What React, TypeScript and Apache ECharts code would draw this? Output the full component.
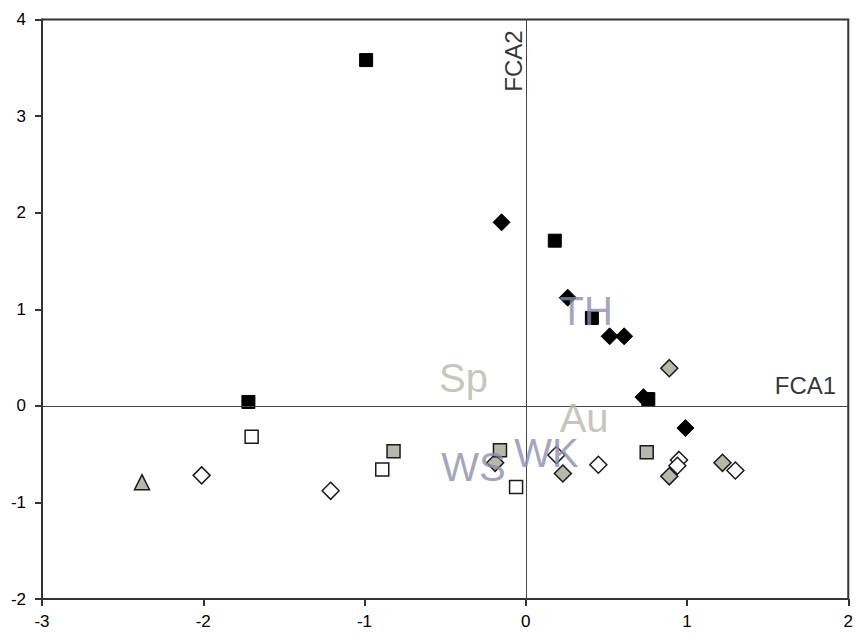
import React, { useEffect, useRef } from "react";
import * as echarts from "echarts";

const blackSquares: number[][] = [[-0.99, 3.58], [-1.72, 0.04], [0.18, 1.71], [0.41, 0.91], [0.76, 0.07]];
const blackDiamonds: number[][] = [[-0.15, 1.9], [0.26, 1.12], [0.52, 0.72], [0.61, 0.72], [0.73, 0.09], [0.99, -0.23]];
const grayDiamonds: number[][] = [[0.89, 0.39], [-0.19, -0.59], [0.23, -0.7], [0.89, -0.73], [1.22, -0.59]];
const whiteDiamonds: number[][] = [[-2.01, -0.72], [-1.21, -0.88], [0.19, -0.51], [0.45, -0.61], [0.95, -0.56], [0.94, -0.62], [1.3, -0.67]];
const graySquares: number[][] = [[-0.82, -0.47], [-0.16, -0.46], [0.75, -0.48]];
const whiteSquares: number[][] = [[-1.7, -0.32], [-0.89, -0.66], [-0.06, -0.84]];
const grayTriangles: number[][] = [[-2.38, -0.79]];

const groupNames = ["TH", "Sp", "Au", "WK", "WS"];
const groupPos: number[][] = [[0.375, 0.98], [-0.386, 0.29], [0.362, -0.13], [0.128, -0.485], [-0.324, -0.63]];
const groupTone = ["purple", "gray", "gray", "purple", "purple"];

const axisNames = ["FCA1", "FCA2"];
const axisNamePos: number[][] = [[1.735, 0.207], [-0.078, 3.57]];

const xTicks = [-3, -2, -1, 0, 1, 2];
const yTicks = [-2, -1, 0, 1, 2, 3, 4];

const GRAY = "#b7b7ab";
const PURPLE = "#8c8cad";
const FONT = "Liberation Sans, Arial, sans-serif";

export default function App() {
  const ref = useRef<HTMLDivElement>(null);
  useEffect(() => {
    document.body.style.margin = "0";
    const chart = echarts.init(ref.current!, null, { renderer: "svg" });
    const markerBorder = { borderColor: "#1a1a1a", borderWidth: 1.5, opacity: 1 };
    const option: any = {
      animation: false,
      backgroundColor: "#ffffff",
      grid: { left: 42, right: 5, top: 19.5, bottom: 35, show: true, borderColor: "#333", borderWidth: 2, backgroundColor: "transparent" },
      xAxis: {
        type: "value", min: xTicks[0], max: xTicks[xTicks.length - 1], interval: 1,
        axisLine: { show: true, onZero: false, lineStyle: { color: "#333", width: 2 } },
        axisTick: { show: true, inside: false, length: 7, lineStyle: { color: "#333", width: 2 } },
        axisLabel: { color: "#000", fontSize: 17, fontFamily: FONT, margin: 14 },
        splitLine: { show: false },
      },
      yAxis: {
        type: "value", min: yTicks[0], max: yTicks[yTicks.length - 1], interval: 1,
        axisLine: { show: true, onZero: false, lineStyle: { color: "#333", width: 2 } },
        axisTick: { show: true, inside: false, length: 7, lineStyle: { color: "#333", width: 2 } },
        axisLabel: { color: "#000", fontSize: 17, fontFamily: FONT, margin: 16 },
        splitLine: { show: false },
      },
      series: [
        {
          type: "scatter", data: [], z: 1,
          markLine: {
            silent: true, symbol: ["none", "none"], animation: false,
            label: { show: false },
            lineStyle: { color: "#444", width: 1, type: "solid" },
            data: [{ xAxis: 0 }, { yAxis: 0 }],
          },
        },
        { type: "scatter", data: whiteDiamonds, symbol: "diamond", symbolSize: 17, itemStyle: { color: "#fff", ...markerBorder }, z: 2 },
        { type: "scatter", data: grayDiamonds, symbol: "diamond", symbolSize: 17, itemStyle: { color: GRAY, ...markerBorder }, z: 2 },
        { type: "scatter", data: whiteSquares, symbol: "rect", symbolSize: 13, itemStyle: { color: "#fff", ...markerBorder }, z: 2 },
        { type: "scatter", data: graySquares, symbol: "rect", symbolSize: 13, itemStyle: { color: GRAY, ...markerBorder }, z: 2 },
        { type: "scatter", data: grayTriangles, symbol: "triangle", symbolSize: 15, itemStyle: { color: GRAY, ...markerBorder }, z: 2 },
        { type: "scatter", data: blackDiamonds, symbol: "diamond", symbolSize: 17, itemStyle: { color: "#000", borderColor: "#000", borderWidth: 1, opacity: 1 }, z: 3 },
        { type: "scatter", data: blackSquares, symbol: "rect", symbolSize: 13, itemStyle: { color: "#000", borderColor: "#000", borderWidth: 1, opacity: 1 }, z: 3 },
        {
          type: "scatter", z: 5, symbolSize: 1, silent: true,
          itemStyle: { color: "rgba(0,0,0,0)" },
          data: groupNames.map((n, i) => ({
            name: n, value: groupPos[i],
            label: { color: groupTone[i] === "purple" ? PURPLE : GRAY },
          })),
          label: { show: true, position: "inside", formatter: "{b}", fontSize: 40, fontFamily: FONT },
        },
        {
          type: "scatter", z: 5, symbolSize: 1, silent: true,
          itemStyle: { color: "rgba(0,0,0,0)" },
          data: axisNames.map((n, i) => ({
            name: n, value: axisNamePos[i],
            label: { rotate: i === 1 ? 90 : 0 },
          })),
          label: { show: true, position: "inside", formatter: "{b}", fontSize: 24, color: "#000", fontFamily: FONT },
        },
      ],
    };
    chart.setOption(option);
    return () => chart.dispose();
  }, []);
  return <div ref={ref} style={{ position: "fixed", left: 0, top: 0, width: 856, height: 634 }} />;
}
